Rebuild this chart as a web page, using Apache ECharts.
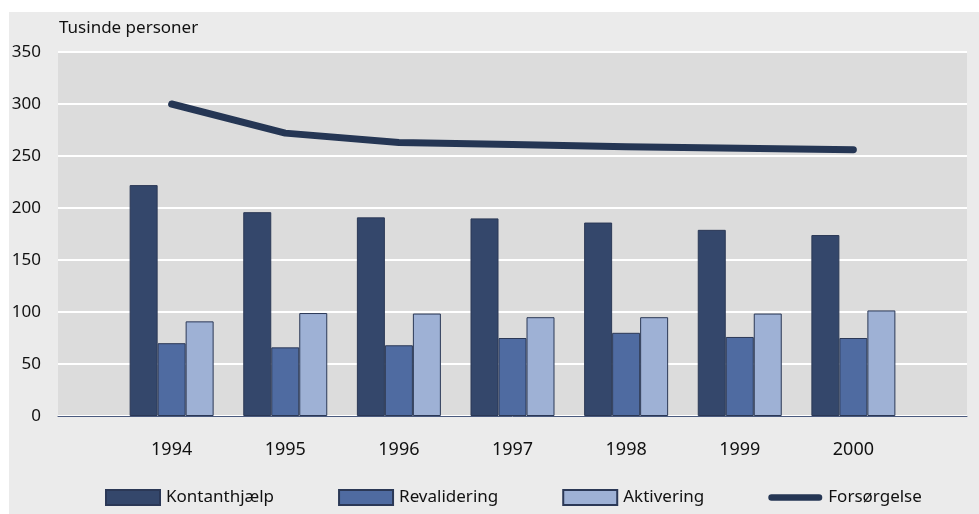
<!DOCTYPE html>
<html><head><meta charset="utf-8">
<script src="https://cdn.jsdelivr.net/npm/echarts@6/dist/echarts.min.js"></script>
<style>html,body{margin:0;padding:0;background:#fff}#c{width:979px;height:514px}</style>
</head><body><div id="c"></div>
<script>
const categories = ['', '1994', '1995', '1996', '1997', '1998', '1999', '2000', ''];
const kontanthjaelp = [null, 222, 196, 191, 190, 186, 179, 174, null];
const revalidering = [null, 70, 66, 68, 75, 80, 76, 75, null];
const aktivering = [null, 91, 99, 98.5, 95, 95, 98.5, 101.5, null];
const forsorgelse = [null, 300, 272, 263, 261, 259, 257.5, 256, null];
const yTicks = [0, 50, 100, 150, 200, 250, 300, 350];

const FONT = '"Noto Sans",sans-serif';
const chart = echarts.init(document.getElementById('c'), null, {renderer: 'canvas'});
const barBorder = {borderColor: '#2b3856', borderWidth: 1};
const lineIcon = 'path://M0,0 M58,15 M3.5,4 L54.5,4 A3.5,3.5 0 0 1 54.5,11 L3.5,11 A3.5,3.5 0 0 1 3.5,4 Z';
chart.setOption({
  animation: false,
  backgroundColor: '#fff',
  graphic: [{type: 'rect', z: -10, shape: {x: 9, y: 12, width: 970, height: 502}, style: {fill: '#ebebeb'}}],
  title: {text: 'Tusinde personer', left: 59, top: 20, padding: 0,
    textStyle: {fontFamily: FONT, fontSize: 17, fontWeight: 'normal', color: '#111'}},
  grid: {left: 58, right: 12, top: 52, bottom: 98, show: true, backgroundColor: '#dcdcdc', borderWidth: 0},
  legend: {left: 105, top: 489, padding: 0, itemWidth: 54, itemHeight: 15, itemGap: 64,
    textStyle: {fontFamily: FONT, fontSize: 17, color: '#111', padding: [0, 0, 0, 1]},
    data: [
      {name: 'Kontanthjælp', icon: 'rect'},
      {name: 'Revalidering', icon: 'rect'},
      {name: 'Aktivering', icon: 'rect'},
      {name: 'Forsørgelse', icon: lineIcon, itemStyle: {color: '#253654', borderWidth: 0}}
    ]},
  xAxis: {type: 'category', data: categories, boundaryGap: false,
    axisLine: {lineStyle: {color: '#4a5a7e', width: 1}}, axisTick: {show: false},
    axisLabel: {margin: 25, fontFamily: FONT, fontSize: 18, color: '#111', interval: 0},
    splitLine: {show: false}},
  yAxis: {type: 'value', min: 0, max: 350, interval: 50,
    axisLine: {show: false}, axisTick: {show: false},
    axisLabel: {margin: 17, fontFamily: FONT, fontSize: 17, color: '#111',
      formatter: v => yTicks.includes(v) ? String(v) : ''},
    splitLine: {lineStyle: {color: '#ffffff', width: 2}}},
  series: [
    {name: 'Kontanthjælp', type: 'bar', data: kontanthjaelp, barWidth: 28, barGap: '0%',
      itemStyle: Object.assign({color: '#34476b'}, barBorder)},
    {name: 'Revalidering', type: 'bar', data: revalidering, barWidth: 28, barGap: '0%',
      itemStyle: Object.assign({color: '#4f6ba1'}, barBorder)},
    {name: 'Aktivering', type: 'bar', data: aktivering, barWidth: 28, barGap: '0%',
      itemStyle: Object.assign({color: '#9eb1d5'}, barBorder)},
    {name: 'Forsørgelse', type: 'line', data: forsorgelse, symbol: 'none', showSymbol: false, z: 5,
      lineStyle: {color: '#253654', width: 7, cap: 'round', join: 'round'},
      itemStyle: {color: '#253654'}}
  ]
});
</script></body></html>
